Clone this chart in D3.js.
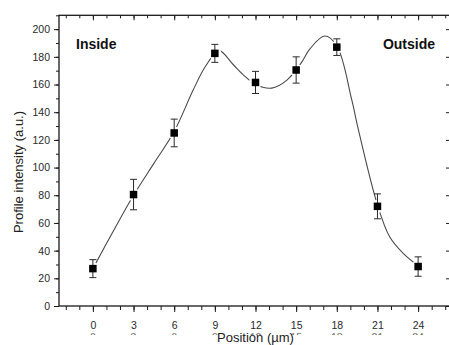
<!DOCTYPE html>
<html>
<head>
<meta charset="utf-8">
<script src="https://cdn.jsdelivr.net/npm/d3@7"></script>
<style>
  html, body { margin: 0; padding: 0; background: #fff; }
  svg { display: block; }
  text { font-family: "Liberation Sans", Arial, sans-serif; }
</style>
</head>
<body>
<svg id="chart" width="449" height="345"></svg>
<script>
// Measured profile: position (µm), intensity (a.u.) and error bar half-heights
const positions = [0, 3, 6, 9, 12, 15, 18, 21, 24];
const intensity = [27, 80.5, 125, 182.5, 161.5, 170.5, 187, 72, 28.5];
const errors    = [6.5, 11, 10, 6.5, 8, 9.5, 6, 9, 7];

// Smoothed guide curve through the profile
const fitX = [0, 1.5, 3, 4.5, 6, 7.4, 8.3, 9.3, 10.3, 11.1, 12, 13.2, 14.3, 15.4, 16, 17.1, 18, 19.1, 19.6, 21, 21.9, 22.9, 24];
const fitY = [27, 54, 80, 103, 126, 156, 173, 184.5, 175, 167, 160, 157.4, 163, 176, 185.5, 195, 188, 149, 127, 73, 50, 38, 29];

// Axis ticks
const xMajor = [0, 3, 6, 9, 12, 15, 18, 21, 24];
const xMinor = d3.range(-2, 27, 1);
const yMajor = d3.range(0, 201, 20);
const yMinor = d3.range(0, 211, 10);

const regionLabels = ["Inside", "Outside"];
const xTitle = "Position (µm)";
const yTitle = "Profile intensity (a.u.)";

const svg = d3.select("#chart");
const plotL = 59, plotR = 452, plotT = 15.3, plotB = 306;

const x = d3.scaleLinear().domain([-2.5, 26.5]).range([plotL, plotR]);
const y = d3.scaleLinear().domain([0, 210]).range([plotB, plotT]);

const ink = "#1a1a1a";

function styleAxis(g) {
  g.select(".domain").remove();
  g.selectAll(".tick line").attr("stroke", ink).attr("stroke-width", 1);
  g.selectAll(".tick text")
    .attr("fill", "#2a2a2a")
    .style("font-size", "10.5px")
    .style("font-family", "'Liberation Sans', Arial, sans-serif");
}

// Bottom axis: outward ticks with labels
svg.append("g").attr("transform", `translate(0,${plotB})`)
  .call(d3.axisBottom(x).tickValues(xMinor).tickSize(4).tickSizeOuter(0).tickFormat(""))
  .call(styleAxis);
svg.append("g").attr("transform", `translate(0,${plotB})`)
  .call(d3.axisBottom(x).tickValues(xMajor).tickSize(6).tickSizeOuter(0).tickPadding(10).tickFormat(d3.format("d")))
  .call(styleAxis);

// Second label row, cut off at the bottom of the frame
const clip = svg.append("clipPath").attr("id", "rowclip");
clip.append("rect").attr("x", 0).attr("y", 333.2).attr("width", 449).attr("height", 1.8);
svg.append("g").attr("clip-path", "url(#rowclip)")
  .selectAll("text").data(xMajor).join("text")
  .attr("x", d => x(d)).attr("y", 341.2)
  .attr("text-anchor", "middle")
  .attr("fill", "#555")
  .style("font-size", "10.5px")
  .text(d => d);

// Left axis: outward ticks with labels
svg.append("g").attr("transform", `translate(${plotL},0)`)
  .call(d3.axisLeft(y).tickValues(yMinor).tickSize(3).tickSizeOuter(0).tickFormat(""))
  .call(styleAxis);
svg.append("g").attr("transform", `translate(${plotL},0)`)
  .call(d3.axisLeft(y).tickValues(yMajor).tickSize(5).tickSizeOuter(0).tickPadding(4).tickFormat(d3.format("d")))
  .call(styleAxis);

// Top axis: inward ticks
svg.append("g").attr("transform", `translate(0,${plotT})`)
  .call(d3.axisTop(x).tickValues(xMinor).tickSize(-3).tickSizeOuter(0).tickFormat(""))
  .call(styleAxis);
svg.append("g").attr("transform", `translate(0,${plotT})`)
  .call(d3.axisTop(x).tickValues(xMajor).tickSize(-5).tickSizeOuter(0).tickFormat(""))
  .call(styleAxis);

// Right axis: inward ticks
svg.append("g").attr("transform", `translate(${plotR},0)`)
  .call(d3.axisRight(y).tickValues(yMinor).tickSize(-3).tickSizeOuter(0).tickFormat(""))
  .call(styleAxis);
svg.append("g").attr("transform", `translate(${plotR},0)`)
  .call(d3.axisRight(y).tickValues(yMajor).tickSize(-6).tickSizeOuter(0).tickFormat(""))
  .call(styleAxis);

// Frame
svg.append("rect")
  .attr("x", plotL).attr("y", plotT)
  .attr("width", plotR - plotL).attr("height", plotB - plotT)
  .attr("fill", "none").attr("stroke", ink).attr("stroke-width", 1.3);

// Guide curve
const fitPts = fitX.map((v, i) => [v, fitY[i]]);
svg.append("path")
  .datum(fitPts)
  .attr("fill", "none")
  .attr("stroke", "#4a4a4a")
  .attr("stroke-width", 1.1)
  .attr("d", d3.line().x(d => x(d[0])).y(d => y(d[1])).curve(d3.curveCatmullRom.alpha(0.5)));

const pts = positions.map((p, i) => ({ p, v: intensity[i], e: errors[i] }));

// White gap around each marker
svg.append("g").selectAll("circle").data(pts).join("circle")
  .attr("cx", d => x(d.p)).attr("cy", d => y(d.v)).attr("r", 6.5)
  .attr("fill", "#fff");

// Error bars
const eb = svg.append("g").attr("stroke", "#2a2a2a").attr("stroke-width", 1);
eb.selectAll("line.v").data(pts).join("line").attr("class", "v")
  .attr("x1", d => x(d.p)).attr("x2", d => x(d.p))
  .attr("y1", d => y(d.v + d.e)).attr("y2", d => y(d.v - d.e));
eb.selectAll("line.t").data(pts).join("line").attr("class", "t")
  .attr("x1", d => x(d.p) - 3.5).attr("x2", d => x(d.p) + 3.5)
  .attr("y1", d => y(d.v + d.e)).attr("y2", d => y(d.v + d.e));
eb.selectAll("line.b").data(pts).join("line").attr("class", "b")
  .attr("x1", d => x(d.p) - 3.5).attr("x2", d => x(d.p) + 3.5)
  .attr("y1", d => y(d.v - d.e)).attr("y2", d => y(d.v - d.e));

// Square markers
const ms = 7.5;
svg.append("g").selectAll("rect").data(pts).join("rect")
  .attr("x", d => x(d.p) - ms / 2).attr("y", d => y(d.v) - ms / 2)
  .attr("width", ms).attr("height", ms)
  .attr("fill", "#000");

// Region labels
svg.append("text").attr("x", 76).attr("y", 49)
  .style("font-size", "14px").style("font-weight", "bold").attr("fill", "#111")
  .text(regionLabels[0]);
svg.append("text").attr("x", 435).attr("y", 49).attr("text-anchor", "end")
  .style("font-size", "14px").style("font-weight", "bold").attr("fill", "#111")
  .text(regionLabels[1]);

// Axis titles
svg.append("text")
  .attr("x", (plotL + plotR) / 2).attr("y", 342)
  .attr("text-anchor", "middle")
  .style("font-size", "13px").attr("fill", "#222")
  .text(xTitle);
svg.append("text")
  .attr("transform", "translate(23,172) rotate(-90)")
  .attr("text-anchor", "middle")
  .style("font-size", "13px").attr("fill", "#222")
  .text(yTitle);
</script>
</body>
</html>
